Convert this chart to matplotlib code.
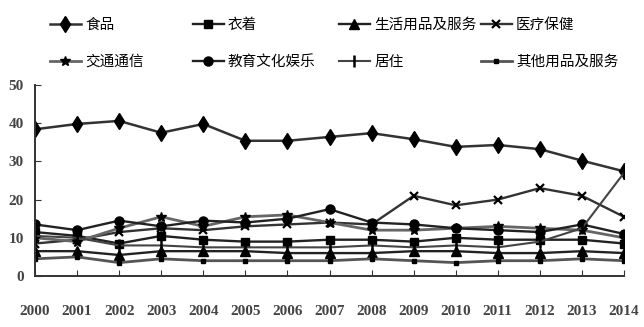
import matplotlib
matplotlib.use("Agg")
import matplotlib.pyplot as plt

plt.rcParams['font.family'] = ['Noto Sans CJK SC', 'DejaVu Sans']

years = list(range(2000, 2015))

food = [38.4, 39.8, 40.6, 37.5, 39.8, 35.4, 35.4, 36.4, 37.4, 35.8, 33.8, 34.3, 33.2, 30.2, 27.4]
clothing = [11.5, 10.5, 8.5, 10.5, 9.5, 9.0, 9.0, 9.5, 9.5, 9.0, 10.0, 9.5, 9.5, 9.5, 8.5]
household = [6.5, 6.5, 5.5, 6.5, 6.5, 6.5, 6.0, 6.0, 6.0, 6.5, 6.5, 6.0, 6.0, 6.5, 6.0]
medical = [8.5, 9.5, 11.5, 12.5, 12.0, 13.0, 13.5, 14.0, 13.5, 21.0, 18.5, 20.0, 23.0, 21.0, 15.5]
transport = [10.0, 9.0, 12.5, 15.5, 13.0, 15.5, 16.0, 14.0, 12.0, 12.0, 12.5, 13.0, 12.5, 12.0, 10.0]
education = [13.5, 12.0, 14.5, 13.0, 14.5, 14.0, 15.0, 17.5, 14.0, 13.5, 12.5, 12.0, 11.5, 13.5, 11.0]
housing = [10.5, 10.0, 8.0, 8.0, 7.5, 7.5, 7.5, 7.5, 8.0, 7.5, 8.0, 7.5, 9.0, 12.5, 27.0]
other = [4.5, 5.0, 3.5, 4.5, 4.0, 4.0, 4.0, 4.0, 4.5, 4.0, 3.5, 4.0, 4.0, 4.5, 4.0]

names = ['食品', '衣着', '生活用品及服务', '医疗保健',
         '交通通信', '教育文化娱乐', '居住', '其他用品及服务']
series = [food, clothing, household, medical, transport, education, housing, other]

styles = [
    dict(color='#333333', marker='d', ms=8, lw=1.8),
    dict(color='#222222', marker='s', ms=6, lw=1.7),
    dict(color='#222222', marker='^', ms=6.5, lw=1.7),
    dict(color='#333333', marker='x', ms=6, lw=1.7, mew=1.6),
    dict(color='#666666', marker='*', ms=7, lw=2.0),
    dict(color='#222222', marker='o', ms=6.5, lw=1.7),
    dict(color='#444444', marker='|', ms=9, lw=1.5, mew=1.8),
    dict(color='#555555', marker='s', ms=3.5, lw=2.0),
]

# legend entry anchors (figure pixels: left edge of handle, row centre)
legend_pos = [(50, 25), (193, 25), (339, 25), (481, 25),
              (50, 62), (193, 62), (339, 62), (481, 62)]

W, H = 644, 327
fig = plt.figure(figsize=(W / 100, H / 100), dpi=100)
ax = fig.add_axes([35 / W, 1 - 276 / H, (624 - 35) / W, (276 - 85) / H])

handles = []
for vals, st in zip(series, styles):
    st = dict(st)
    ms = st.pop('ms')
    mew = st.pop('mew', 1.0)
    h, = ax.plot(years, vals, markersize=ms, markeredgewidth=mew,
                 markerfacecolor='black', markeredgecolor='black',
                 solid_joinstyle='round', **st)
    handles.append(h)

ax.set_xlim(2000, 2014)
ax.set_ylim(0, 50)
ax.set_xticks(years)
ax.set_yticks(range(0, 51, 10))
ax.spines['top'].set_visible(False)
ax.spines['right'].set_visible(False)
for s in ('left', 'bottom'):
    ax.spines[s].set_linewidth(1.4)
    ax.spines[s].set_color('#333333')

tick_family = ['Liberation Serif', 'DejaVu Serif']
ax.tick_params(axis='x', direction='in', length=4, pad=21, colors='#333333')
ax.tick_params(axis='y', direction='in', length=4, pad=8, colors='#333333')
for lab in ax.get_xticklabels() + ax.get_yticklabels():
    lab.set_fontfamily(tick_family)
    lab.set_fontweight('bold')
    lab.set_fontsize(11)
    lab.set_color('#444444')

for h, name, (px, py) in zip(handles, names, legend_pos):
    fig.legend([h], [name], loc='center left',
               bbox_to_anchor=(px / W, 1 - py / H),
               frameon=False, borderpad=0, borderaxespad=0,
               handlelength=2.1, handletextpad=0.3,
               prop=dict(family=['Noto Sans CJK SC', 'DejaVu Sans'], size=10.5))

fig.savefig('out.png', dpi=100, facecolor='white')
